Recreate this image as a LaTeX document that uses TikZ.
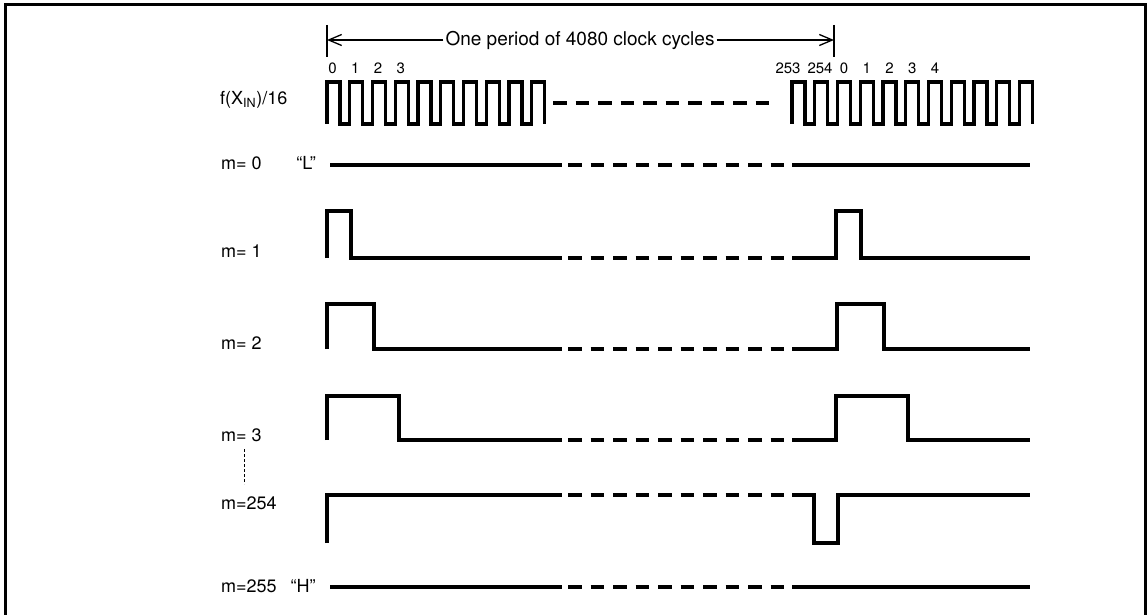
\documentclass[tikz,border=0pt]{standalone}
\usepackage{fontspec}
\setmainfont{TeX Gyre Heros}
\usetikzlibrary{arrows.meta}

\begin{document}
\begin{tikzpicture}[x=1pt,y=-1pt,line join=miter]

  \tikzstyle{sig}=[line width=3.2pt]
  \tikzstyle{sigdash}=[line width=3.2pt,dash pattern=on 13.5pt off 9pt]
  \tikzstyle{rowlabel}=[anchor=west,inner sep=0pt,font=\fontsize{18}{18}\selectfont]
  \tikzstyle{cnt}=[inner sep=0pt,font=\fontsize{15}{15}\selectfont]
  \tikzstyle{dim}=[line width=1.3pt,-{Straight Barb[length=13pt,width=11pt]}]

  \useasboundingbox (0,0) rectangle (1148,615);

  % frame
  \draw[line width=3pt] (5,625) -- (5,5) -- (1145,5) -- (1145,625);

  % one period
  \coordinate (pstart) at (327,40);
  \coordinate (pend) at (834,40);
  \draw[line width=1.3pt] (327,25) -- (327,57);
  \draw[line width=1.3pt] (834,25) -- (834,57);
  \node[font=\fontsize{19}{19}\selectfont,inner sep=2pt] (title) at (580,40) {One period of 4080 clock cycles};
  \draw[dim] (title.west) -- (pstart);
  \draw[dim] (title.east) -- (pend);

  % clock
  \node[rowlabel] (lclk) at (220,100) {f(X\textsubscript{IN})/16};
  \draw[sig] (327,124) \foreach \k in {0,...,9} { -- ({327+22.75*\k},124) -- ({327+22.75*\k},82) -- ({340+22.75*\k},82) -- ({340+22.75*\k},124) };
  \draw[sigdash] (553,103) -- (775,103);
  \draw[sig] (792,124) \foreach \k in {0,...,10} { -- ({792+22.75*\k},124) -- ({792+22.75*\k},82) -- ({805+22.75*\k},82) -- ({805+22.75*\k},124) };
  \foreach \n [count=\k from 0] in {0,1,2,3}
    \node[cnt] (c\n) at ({332.5+22.75*\k},68) {\n};
  \node[cnt] (c253) at (788,68) {253};
  \node[cnt] (c254) at (820,68) {254};
  \foreach \n [count=\k from 2] in {0,1,2,3,4}
    \node[cnt] (d\n) at ({798.5+22.75*\k},68) {\n};

  % m = 0
  \node[rowlabel] (lm0) at (221,163) {m= 0};
  \node[font=\fontsize{18}{18}\selectfont,inner sep=0pt] (qL) at (306,163) {“L”};
  \draw[sig] (330,165) -- (562,165);
  \draw[sigdash] (568,165) -- (785,165);
  \draw[sig] (792,165) -- (1030,165);

  % m = 1
  \node[rowlabel] (lm1) at (221,251) {m= 1};
  \draw[sig] (327,258) -- (327,211) -- (351,211) -- (351,258) -- (562,258);
  \draw[sigdash] (568,258) -- (785,258);
  \draw[sig] (792,258) -- (836,258) -- (836,211) -- (861,211) -- (861,258) -- (1030,258);

  % m = 2
  \node[rowlabel] (lm2) at (221,343) {m= 2};
  \draw[sig] (327,349) -- (327,304) -- (374,304) -- (374,349) -- (562,349);
  \draw[sigdash] (568,349) -- (785,349);
  \draw[sig] (792,349) -- (837,349) -- (837,304) -- (884,304) -- (884,349) -- (1030,349);

  % m = 3
  \node[rowlabel] (lm3) at (221,435) {m= 3};
  \draw[sig] (327,440) -- (327,396) -- (399,396) -- (399,440) -- (562,440);
  \draw[sigdash] (568,440) -- (785,440);
  \draw[sig] (792,440) -- (836,440) -- (836,396) -- (908,396) -- (908,440) -- (1030,440);

  % m = 254
  \node[rowlabel] (lm254) at (221,503) {m=254};
  \coordinate (dtop) at (244,449);
  \coordinate (dbot) at (244,484);
  \draw[line width=0.9pt,dash pattern=on 3pt off 2pt] (dtop) -- (dbot);
  \draw[sig] (327,543) -- (327,495) -- (562,495);
  \draw[sigdash] (568,495) -- (785,495);
  \draw[sig] (792,495) -- (814,495) -- (814,543) -- (838,543) -- (838,495) -- (1030,495);

  % m = 255
  \node[rowlabel] (lm255) at (221,586) {m=255};
  \node[font=\fontsize{18}{18}\selectfont,inner sep=0pt] (qH) at (303,586) {“H”};
  \draw[sig] (330,587) -- (562,587);
  \draw[sigdash] (568,587) -- (785,587);
  \draw[sig] (792,587) -- (1030,587);

\end{tikzpicture}
\end{document}
